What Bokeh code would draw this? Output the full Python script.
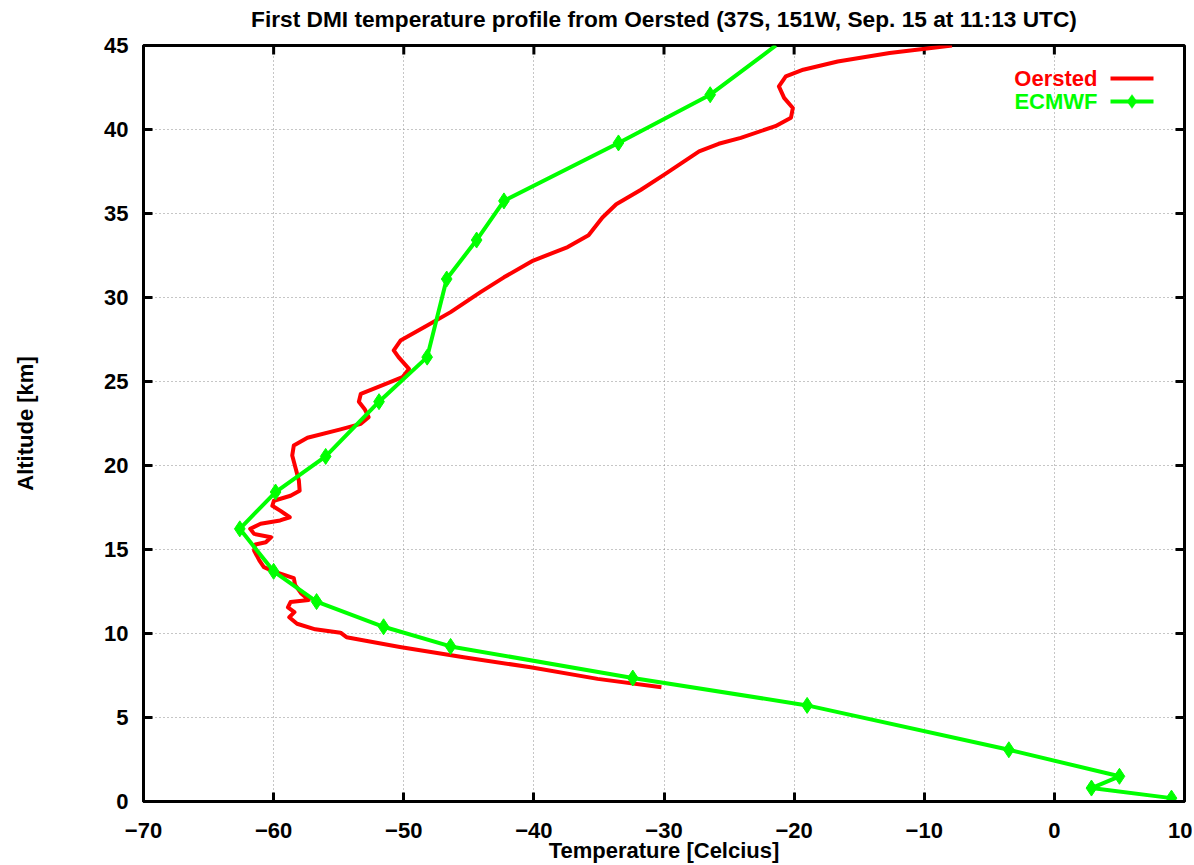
import math
from bokeh.plotting import figure
from bokeh.models import Range1d, FixedTicker, LinearAxis, Label, Arrow, PolyAnnotation
from bokeh.embed import file_html
from bokeh.resources import INLINE

title_text = "First DMI temperature profile from Oersted (37S, 151W, Sep. 15 at 11:13 UTC)"
x_label = "Temperature [Celcius]"
y_label = "Altitude [km]"
x_ticks = [-70, -60, -50, -40, -30, -20, -10, 0, 10]
y_ticks = [0, 5, 10, 15, 20, 25, 30, 35, 40, 45]

oersted_temp = [-30.2, -35.1, -40.25, -45.4, -50.3, -54.4, -54.86, -56.8, -58.2, -58.8,
                -58.4, -58.9, -58.7, -57.3, -57.9, -58.35, -58.45, -60.0, -60.75, -61.1,
                -61.5, -61.4, -60.6, -60.2, -61.5, -61.8, -61.0, -59.5, -58.76, -59.47,
                -60.1, -59.98, -58.7, -58.0, -58.06, -58.3, -58.57, -58.45, -57.4, -54.86,
                -53.3, -52.7, -53.0, -53.45, -53.3, -52.0, -50.1, -49.6, -50.4, -50.77,
                -50.25, -48.2, -46.4, -44.1, -42.3, -40.05, -37.4, -35.8, -34.73, -33.67,
                -31.8, -29.95, -27.3, -25.8, -24.1, -21.44, -20.24, -20.1, -20.77, -21.17,
                -20.64, -19.3, -16.65, -12.66, -7.87]
oersted_alt = [6.8, 7.3, 7.99, 8.59, 9.2, 9.78, 10.05, 10.25, 10.58, 10.97,
               11.27, 11.55, 11.87, 12.0, 12.4, 12.9, 13.3, 13.7, 13.95, 14.35,
               14.94, 15.3, 15.43, 15.73, 15.93, 16.23, 16.53, 16.73, 16.92, 17.3,
               17.6, 17.9, 18.2, 18.5, 19.1, 19.8, 20.6, 21.19, 21.65, 22.15,
               22.48, 22.88, 23.35, 23.8, 24.27, 24.66, 25.26, 25.75, 26.45, 26.85,
               27.44, 28.33, 29.13, 30.32, 31.2, 32.2, 33.0, 33.7, 34.76, 35.55,
               36.4, 37.33, 38.7, 39.15, 39.5, 40.2, 40.7, 41.28, 41.88, 42.57,
               43.16, 43.56, 44.05, 44.55, 45.0]

ecmwf_temp = [9.0, 2.85, 5.0, -3.5, -19.0, -32.4, -46.4, -51.55, -56.7, -60.0,
              -62.6, -59.85, -56.0, -51.9, -48.2, -46.7, -44.4, -42.3, -33.5, -26.45,
              -21.4]
ecmwf_alt = [0.2, 0.8, 1.5, 3.08, 5.72, 7.35, 9.23, 10.4, 11.9, 13.7,
             16.23, 18.42, 20.54, 23.8, 26.45, 31.1, 33.42, 35.75, 39.2, 42.07,
             45.0]

FONT = "Liberation Sans"
RED = "#ff0000"
GREEN = "#00ff00"
X0, X1 = x_ticks[0], x_ticks[-1]
Y0, Y1 = y_ticks[0], y_ticks[-1]

p = figure(width=1192, height=865, x_range=Range1d(X0, X1), y_range=Range1d(Y0, Y1),
           output_backend="svg", toolbar_location=None,
           min_border_left=143, min_border_right=8, min_border_top=45, min_border_bottom=64)

p.outline_line_color = "black"
p.outline_line_width = 3
p.outline_line_alpha = 1

def style_axis(ax):
    ax.axis_line_width = 3
    ax.axis_line_color = "black"
    ax.major_tick_in = 9
    ax.major_tick_out = 0
    ax.major_tick_line_width = 3
    ax.minor_tick_line_color = None
    ax.major_label_text_font = FONT
    ax.major_label_text_font_size = "22px"
    ax.major_label_text_font_style = "bold"
    ax.major_label_text_color = "black"
    ax.axis_label_text_font = FONT
    ax.axis_label_text_font_size = "22px"
    ax.axis_label_text_font_style = "bold"
    ax.axis_label_text_color = "black"

xt = FixedTicker(ticks=x_ticks)
yt = FixedTicker(ticks=y_ticks)

p.xaxis.ticker = xt
p.yaxis.ticker = yt
for ax in p.xaxis:
    style_axis(ax)
    ax.axis_label = x_label
    ax.major_label_standoff = 21
    ax.axis_label_standoff = -3
for ax in p.yaxis:
    style_axis(ax)
    ax.axis_label = y_label
    ax.major_label_standoff = 15
    ax.axis_label_standoff = 63

# title: carried by a tick-less axis above the frame so it can sit at the reference height
title_axis = LinearAxis(ticker=FixedTicker(ticks=[]), axis_label=title_text,
                        axis_line_color=None, major_tick_line_color=None,
                        minor_tick_line_color=None, major_label_standoff=0,
                        axis_label_standoff=14, axis_label_text_font=FONT,
                        axis_label_text_font_size="22.7px", axis_label_text_font_style="bold",
                        axis_label_text_color="black")
p.add_layout(title_axis, "above")

p.xgrid.ticker = xt
p.ygrid.ticker = yt
p.grid.grid_line_color = "#8c8c8c"
p.grid.grid_line_dash = "1 3"
p.grid.grid_line_width = 1

# inward ticks on the top and right frame edges (half of each dash is clipped by the frame)
p.scatter(x_ticks, [Y1] * len(x_ticks), marker="dash", size=18, angle=math.pi / 2,
          line_color="black", line_width=3)
p.scatter([X1] * len(y_ticks), y_ticks, marker="dash", size=18,
          line_color="black", line_width=3)

p.line(oersted_temp, oersted_alt, line_color=RED, line_width=4, line_join="round")
p.line(ecmwf_temp, ecmwf_alt, line_color=GREEN, line_width=4, line_join="round")
p.scatter(ecmwf_temp[:-1], ecmwf_alt[:-1], marker="diamond", size=16,
          fill_color=GREEN, line_color=GREEN, line_width=1)

# key (text to the left of the sample, as in the original)
p.add_layout(Label(x=954, y=723, x_units="screen", y_units="screen", text="Oersted",
                   text_align="right", text_baseline="middle", text_color=RED,
                   text_font=FONT, text_font_size="22px", text_font_style="bold"))
p.add_layout(Label(x=954, y=700, x_units="screen", y_units="screen", text="ECMWF",
                   text_align="right", text_baseline="middle", text_color=GREEN,
                   text_font=FONT, text_font_size="22px", text_font_style="bold"))
p.add_layout(Arrow(end=None, x_start=967, y_start=723, x_end=1010, y_end=723,
                   start_units="screen", end_units="screen", line_color=RED, line_width=4))
p.add_layout(Arrow(end=None, x_start=967, y_start=700, x_end=1010, y_end=700,
                   start_units="screen", end_units="screen", line_color=GREEN, line_width=4))
p.add_layout(PolyAnnotation(xs=[983.5, 988.5, 993.5, 988.5], ys=[700, 707, 700, 693],
                            xs_units="screen", ys_units="screen",
                            fill_color=GREEN, fill_alpha=1, line_color=GREEN, line_width=1))

open("out.html", "w").write(file_html(p, INLINE))
